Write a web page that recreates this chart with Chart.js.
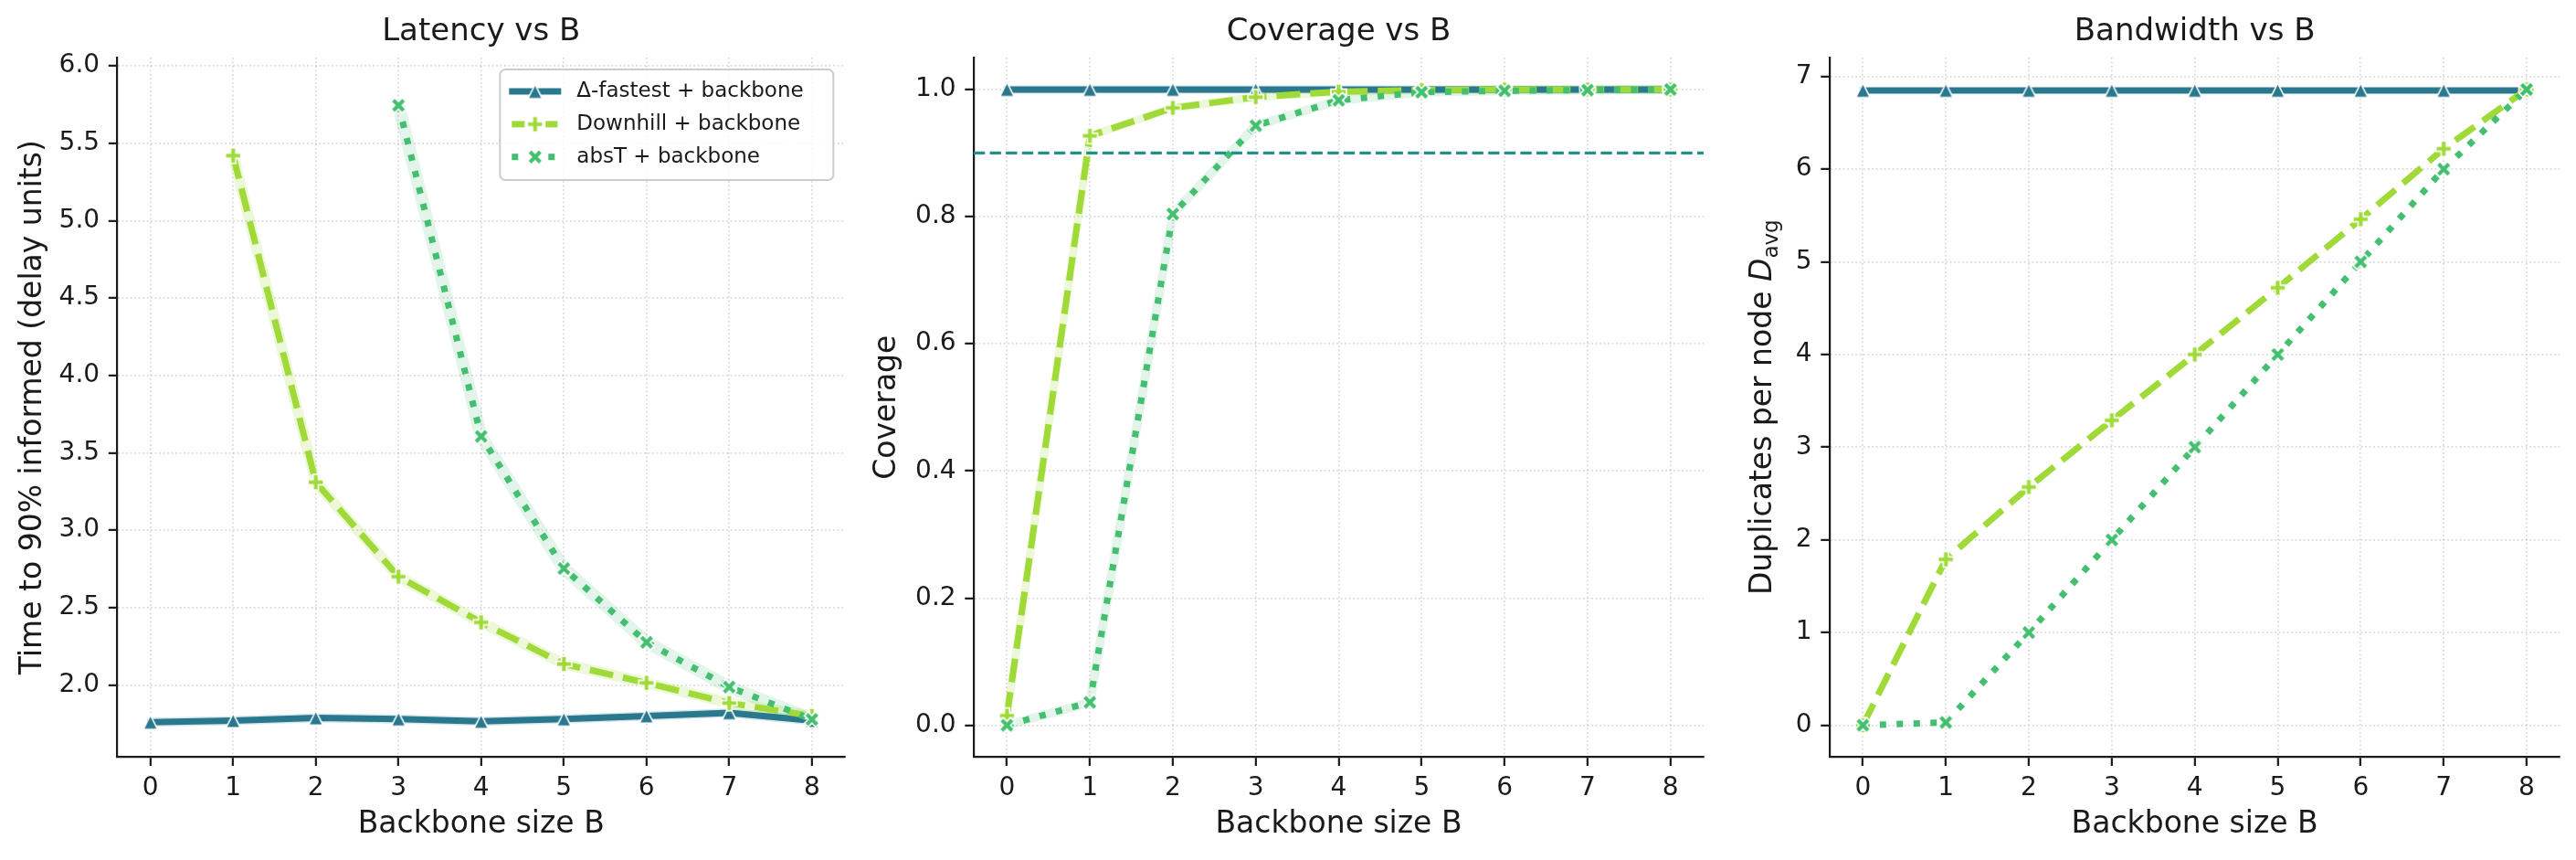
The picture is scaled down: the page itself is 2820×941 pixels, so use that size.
<!DOCTYPE html>
<html>
<head>
<meta charset="utf-8">
<title>Backbone size B</title>
<script src="https://cdn.jsdelivr.net/npm/chart.js@4.4.1/dist/chart.umd.min.js"></script>
<style>
    html, body { margin: 0; padding: 0; background: #fff; overflow: hidden; }
    #wrap { position: relative; width: 2820px; height: 941px; }
    .panel { position: absolute; top: 0; width: 940px; height: 941px; }
</style>
</head>
<body>
<div id="wrap">
    <div class="panel" style="left:0px"><canvas id="latencyChart" width="940" height="941"></canvas></div>
    <div class="panel" style="left:940px"><canvas id="coverageChart" width="940" height="941"></canvas></div>
    <div class="panel" style="left:1880px"><canvas id="bandwidthChart" width="940" height="941"></canvas></div>
</div>
<script>
// Valeurs
const backboneSizes = [0, 1, 2, 3, 4, 5, 6, 7, 8];
const seriesLabels = ['Δ-fastest + backbone', 'Downhill + backbone', 'absT + backbone'];

const latencyFastest  = [1.76, 1.77, 1.787, 1.78, 1.765, 1.78, 1.80, 1.82, 1.77];
const latencyDownhill = [null, 5.42, 3.31, 2.70, 2.405, 2.136, 2.014, 1.884, 1.80];
const latencyAbsT     = [null, null, null, 5.745, 3.606, 2.753, 2.276, 1.987, 1.778];

const coverageFastest  = [1.0, 1.0, 1.0, 1.0, 1.0, 1.0, 1.0, 1.0, 1.0];
const coverageDownhill = [0.015, 0.927, 0.971, 0.988, 0.9965, 0.999, 1.0, 1.0, 1.0];
const coverageAbsT     = [0.0, 0.036, 0.804, 0.943, 0.983, 0.9957, 0.998, 0.999, 1.0];
const coverageTarget = 0.9;

const bandwidthFastest  = [6.85, 6.85, 6.85, 6.85, 6.85, 6.85, 6.85, 6.85, 6.85];
const bandwidthDownhill = [0.0, 1.79, 2.57, 3.29, 4.0, 4.72, 5.46, 6.22, 6.86];
const bandwidthAbsT     = [0.0, 0.03, 1.0, 2.0, 3.0, 4.0, 5.0, 6.0, 6.86];

const xTicks = [0, 1, 2, 3, 4, 5, 6, 7, 8];
const latencyTicks = [2.0, 2.5, 3.0, 3.5, 4.0, 4.5, 5.0, 5.5, 6.0];
const coverageTicks = [0.0, 0.2, 0.4, 0.6, 0.8, 1.0];
const bandwidthTicks = [0, 1, 2, 3, 4, 5, 6, 7];

// Styles
const FONT = "'DejaVu Sans', sans-serif";
const INK = '#1a1a1a';
const GRID = 'rgba(170, 170, 170, 0.45)';
const COL_FASTEST = '#2a788e';
const COL_DOWNHILL = '#a0da39';
const COL_ABST = '#44bf70';
const COL_TARGET = '#21918c';
const PLOT_BOTTOM = 828.3;

Chart.defaults.font.family = FONT;
Chart.defaults.color = INK;

// Marqueurs façon matplotlib (remplis, bord blanc)
function makeMarker(shape, color, ms) {
    const edge = 1.6;
    const size = Math.ceil(ms + edge * 2 + 2);
    const c = document.createElement('canvas');
    c.width = size;
    c.height = size;
    const ctx = c.getContext('2d');
    ctx.translate(size / 2, size / 2);
    const s = ms / 2;
    let pts;
    if (shape === 'tri') {
        pts = [[0, -1], [-1, 1], [1, 1]];
    } else if (shape === 'plus') {
        pts = [[-1, -3], [1, -3], [1, -1], [3, -1], [3, 1], [1, 1], [1, 3], [-1, 3], [-1, 1], [-3, 1], [-3, -1], [-1, -1]]
            .map(p => [p[0] / 3, p[1] / 3]);
    } else {
        pts = [[-1, -2], [0, -1], [1, -2], [2, -1], [1, 0], [2, 1], [1, 2], [0, 1], [-1, 2], [-2, 1], [-1, 0], [-2, -1]]
            .map(p => [p[0] / 2, p[1] / 2]);
    }
    ctx.beginPath();
    pts.forEach((p, i) => i ? ctx.lineTo(p[0] * s, p[1] * s) : ctx.moveTo(p[0] * s, p[1] * s));
    ctx.closePath();
    ctx.fillStyle = color;
    ctx.fill();
    ctx.lineWidth = edge;
    ctx.lineJoin = 'miter';
    ctx.strokeStyle = '#ffffff';
    ctx.stroke();
    return c;
}

const markerTri = makeMarker('tri', COL_FASTEST, 15.5);
const markerPlus = makeMarker('plus', COL_DOWNHILL, 17);
const markerX = makeMarker('x', COL_ABST, 16.5);

function toPoints(values) {
    return backboneSizes.map((b, i) => ({ x: b, y: values[i] }));
}

function buildDatasets(fastest, downhill, absT, halo) {
    const sets = [
        { label: seriesLabels[0], data: toPoints(fastest), borderColor: COL_FASTEST, borderWidth: 7,
          borderCapStyle: 'square', pointStyle: markerTri, order: 3 },
        { label: seriesLabels[1], data: toPoints(downhill), borderColor: COL_DOWNHILL, borderWidth: 7,
          borderDash: [26, 11], pointStyle: markerPlus, order: 2 },
        { label: seriesLabels[2], data: toPoints(absT), borderColor: COL_ABST, borderWidth: 7,
          borderDash: [7, 11.5], pointStyle: markerX, order: 1 }
    ];
    // halo léger (bande d'incertitude)
    if (halo) {
        sets.push(
            { label: '', data: toPoints(fastest), borderColor: 'rgba(42,120,142,0.18)', borderWidth: halo[0], pointRadius: 0, order: 12 },
            { label: '', data: toPoints(downhill), borderColor: 'rgba(160,218,57,0.2)', borderWidth: halo[1], pointRadius: 0, order: 11 },
            { label: '', data: toPoints(absT), borderColor: 'rgba(68,191,112,0.15)', borderWidth: halo[2], pointRadius: 0, order: 10 }
        );
    }
    return sets;
}

function xScale() {
    return {
        type: 'linear',
        min: -0.4,
        max: 8.4,
        afterBuildTicks: s => { s.ticks = xTicks.map(v => ({ value: v })); },
        afterFit: s => { s.height = 941 - PLOT_BOTTOM; },
        ticks: { font: { size: 28, lineHeight: 1 }, color: INK, padding: 10.4, maxRotation: 0, autoSkip: false,
                 callback: v => String(v) },
        grid: { color: GRID, lineWidth: 1.7, tickLength: 9.7, tickColor: INK, tickWidth: 2.2 },
        border: { display: true, color: INK, width: 2.2, dash: [1.7, 2.8] },
        title: { display: true, text: 'Backbone size B', color: INK,
                 font: { size: 33, lineHeight: 1, weight: 'normal' }, padding: { top: 0, bottom: 21.9 } }
    };
}

function yScale(min, max, tickValues, fmt, titleText, leftWidth, titlePad) {
    return {
        type: 'linear',
        min: min,
        max: max,
        afterBuildTicks: s => { s.ticks = tickValues.map(v => ({ value: v })); },
        afterFit: s => { s.width = leftWidth; },
        ticks: { font: { size: 28, lineHeight: 1 }, color: INK, padding: 9.7, callback: fmt },
        grid: { color: GRID, lineWidth: 1.7, tickLength: 9.7, tickColor: INK, tickWidth: 2.2 },
        border: { display: true, color: INK, width: 2.2, dash: [1.7, 2.8] },
        title: { display: !!titleText, text: titleText || '', color: INK,
                 font: { size: 33, lineHeight: 1, weight: 'normal' }, padding: { top: titlePad, bottom: 0 } }
    };
}

function baseOptions(titleText, rightPad) {
    return {
        responsive: false,
        animation: false,
        events: [],
        layout: { padding: { left: 0, right: rightPad, top: 0, bottom: 0 } },
        elements: {
            line: { tension: 0, borderCapStyle: 'butt', borderJoinStyle: 'round' },
            point: { radius: 8, hoverRadius: 8 }
        },
        plugins: {
            legend: { display: false },
            tooltip: { enabled: false },
            title: { display: true, text: titleText, fullSize: false, color: INK,
                     font: { size: 34, lineHeight: 1, weight: 'normal' }, padding: { top: 18.5, bottom: 10.6 } }
        }
    };
}

// Légende dessinée comme matplotlib (ligne + marqueur)
const legendBox = {
    id: 'legendBox',
    afterDraw(chart) {
        const ctx = chart.ctx;
        const w = 365, h = 121;
        const x0 = chart.chartArea.right - 12.7 - w;
        const y0 = chart.chartArea.top + 13;
        ctx.save();
        ctx.beginPath();
        ctx.roundRect(x0, y0, w, h, 6);
        ctx.fillStyle = 'rgba(255,255,255,0.85)';
        ctx.fill();
        ctx.lineWidth = 2;
        ctx.strokeStyle = '#cccccc';
        ctx.stroke();

        const segs = [
            [[10, 67]],
            [[13, 27], [50, 63]],
            [[13, 20], [53, 60]]
        ];
        chart.data.datasets.slice(0, 3).forEach((ds, i) => {
            const y = y0 + 24 + i * 35.8;
            ctx.strokeStyle = ds.borderColor;
            ctx.lineWidth = 7;
            ctx.lineCap = 'butt';
            segs[i].forEach(sg => {
                ctx.beginPath();
                ctx.moveTo(x0 + sg[0], y);
                ctx.lineTo(x0 + sg[1], y);
                ctx.stroke();
            });
            const m = ds.pointStyle;
            ctx.drawImage(m, x0 + 38.5 - m.width / 2, y - m.height / 2);
            ctx.fillStyle = INK;
            ctx.font = '23px ' + FONT;
            ctx.textBaseline = 'middle';
            ctx.textAlign = 'left';
            ctx.fillText(ds.label, x0 + 84, y);
        });
        ctx.restore();
    }
};

// Ligne de référence horizontale (objectif de couverture)
const targetLine = {
    id: 'targetLine',
    afterDatasetsDraw(chart, args, opts) {
        const ctx = chart.ctx;
        const y = chart.scales.y.getPixelForValue(opts.value);
        ctx.save();
        ctx.strokeStyle = COL_TARGET;
        ctx.lineWidth = 3.3;
        ctx.setLineDash([12.3, 5.3]);
        ctx.beginPath();
        ctx.moveTo(chart.chartArea.left, y);
        ctx.lineTo(chart.chartArea.right, y);
        ctx.stroke();
        ctx.restore();
    }
};

// Titre d'axe Y avec indice (D_avg)
const subscriptLabel = {
    id: 'subscriptLabel',
    afterDraw(chart, args, opts) {
        const ctx = chart.ctx;
        const parts = [
            { text: 'Duplicates per node ', font: '33px ' + FONT, dy: 0 },
            { text: 'D', font: 'italic 33px ' + FONT, dy: 0 },
            { text: 'avg', font: '23px ' + FONT, dy: 7 }
        ];
        ctx.save();
        let total = 0;
        parts.forEach(p => { ctx.font = p.font; p.w = ctx.measureText(p.text).width; total += p.w; });
        ctx.translate(opts.baselineX, (chart.chartArea.top + chart.chartArea.bottom) / 2);
        ctx.rotate(-Math.PI / 2);
        ctx.fillStyle = INK;
        ctx.textBaseline = 'alphabetic';
        ctx.textAlign = 'left';
        let u = -total / 2;
        parts.forEach(p => {
            ctx.font = p.font;
            ctx.fillText(p.text, u, p.dy);
            u += p.w;
        });
        ctx.restore();
    }
};

document.addEventListener('DOMContentLoaded', function() {
    if (typeof Chart === 'undefined') {
        console.warn('Chart.js not loaded');
        return;
    }

    // Latence
    const latOpts = baseOptions('Latency vs B', 13);
    latOpts.scales = {
        x: xScale(),
        y: yScale(1.535, 6.053, latencyTicks, v => v.toFixed(1), 'Time to 90% informed (delay units)', 128.5, 20)
    };
    new Chart(document.getElementById('latencyChart'), {
        type: 'line',
        data: { datasets: buildDatasets(latencyFastest, latencyDownhill, latencyAbsT, [10, 12, 14]) },
        options: latOpts,
        plugins: [legendBox]
    });

    // Couverture
    const covOpts = baseOptions('Coverage vs B', 14.2);
    covOpts.scales = {
        x: xScale(),
        y: yScale(-0.05, 1.05, coverageTicks, v => v.toFixed(1), 'Coverage', 126, 14.5)
    };
    covOpts.plugins.targetLine = { value: coverageTarget };
    new Chart(document.getElementById('coverageChart'), {
        type: 'line',
        data: { datasets: buildDatasets(coverageFastest, coverageDownhill, coverageAbsT, [9, 9, 10]) },
        options: covOpts,
        plugins: [targetLine]
    });

    // Bande passante
    const bwOpts = baseOptions('Bandwidth vs B', 17.7);
    bwOpts.scales = {
        x: xScale(),
        y: yScale(-0.343, 7.203, bandwidthTicks, v => String(v), '', 123, 0)
    };
    bwOpts.plugins.subscriptLabel = { baselineX: 59 };
    new Chart(document.getElementById('bandwidthChart'), {
        type: 'line',
        data: { datasets: buildDatasets(bandwidthFastest, bandwidthDownhill, bandwidthAbsT, null) },
        options: bwOpts,
        plugins: [subscriptLabel]
    });
});
</script>
</body>
</html>
